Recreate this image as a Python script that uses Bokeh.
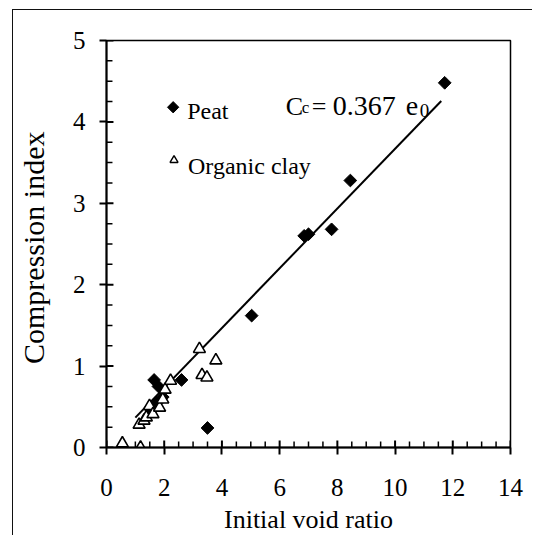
import math
from bokeh.plotting import figure
from bokeh.models import Label, SingleIntervalTicker, Range1d
from bokeh.embed import file_html
from bokeh.resources import INLINE

# Peat (filled diamonds)
peat_e0 = [1.65, 1.80, 1.72, 1.55, 1.95, 2.60, 3.50, 5.03, 6.85, 7.00, 7.80, 8.45, 11.72]
peat_cc = [0.83, 0.75, 0.55, 0.45, 0.62, 0.83, 0.24, 1.62, 2.60, 2.62, 2.68, 3.28, 4.48]

# Organic clay (open triangles)
clay_e0 = [0.55, 1.18, 1.13, 1.30, 1.38, 1.49, 1.61, 1.84, 1.95, 2.03, 2.22, 3.22, 3.31, 3.48, 3.79]
clay_cc = [0.05, 0.00, 0.28, 0.33, 0.37, 0.51, 0.41, 0.49, 0.59, 0.71, 0.82, 1.21, 0.89, 0.86, 1.07]

# Regression Cc = 0.367 e0
slope = 0.367
fit_e0 = [1.0, 11.6]
fit_cc = [slope * e for e in fit_e0]

# axis ticks
x_major = [0, 2, 4, 6, 8, 10, 12, 14]
y_major = [0, 1, 2, 3, 4, 5]
x_minor = [m + k * 0.5 for m in x_major[:-1] for k in (1, 2, 3)]
y_minor = [m + k * 0.25 for m in y_major[:-1] for k in (1, 2, 3)]

FONT = "Liberation Serif"
X0, X1, Y0, Y1 = 0, 14, 0, 5
FRAME_W, FRAME_H = 406, 409          # plot-area size in px
PX_X = (X1 - X0) / FRAME_W          # data units per px
PX_Y = (Y1 - Y0) / FRAME_H

p = figure(width=520, height=526, output_backend="svg", toolbar_location=None,
           x_range=Range1d(X0, X1), y_range=Range1d(Y0, Y1),
           min_border_left=91, min_border_right=23, min_border_top=30, min_border_bottom=87)
p.styles = {"border-left": "1.5px solid #111", "border-top": "1.5px solid #111",
            "margin-left": "12px", "margin-top": "9px"}
p.grid.visible = False
p.outline_line_color = "black"
p.outline_line_width = 1.5
p.background_fill_alpha = 0
p.border_fill_alpha = 0

p.xaxis.ticker = SingleIntervalTicker(interval=2, num_minor_ticks=0)
p.yaxis.ticker = SingleIntervalTicker(interval=1, num_minor_ticks=0)

for ax in (p.xaxis[0], p.yaxis[0]):
    ax.axis_line_width = 2
    ax.axis_line_color = "black"
    ax.major_tick_line_color = "black"
    ax.major_tick_line_width = 2
    ax.major_tick_in = 0
    ax.major_tick_out = 7
    ax.minor_tick_line_color = None
    ax.major_label_text_font = FONT
    ax.major_label_text_font_size = "25px"
    ax.major_label_text_color = "black"
    ax.axis_label_text_font = FONT
    ax.axis_label_text_font_style = "normal"
    ax.axis_label_text_color = "black"

p.xaxis.axis_label = "Initial void ratio"
p.yaxis.axis_label = "Compression  index"
p.xaxis.axis_label_text_font_size = "26px"
p.yaxis.axis_label_text_font_size = "30px"
p.xaxis.major_label_standoff = 24
p.yaxis.major_label_standoff = 14
p.xaxis.axis_label_standoff = 6
p.yaxis.axis_label_standoff = 20

# inward tick marks
MAJ_IN, MIN_IN = 7, 6
p.segment(x0=x_major, y0=[Y0] * len(x_major), x1=x_major, y1=[Y0 + MAJ_IN * PX_Y] * len(x_major),
          line_color="black", line_width=2)
p.segment(x0=x_minor, y0=[Y0] * len(x_minor), x1=x_minor, y1=[Y0 + MIN_IN * PX_Y] * len(x_minor),
          line_color="black", line_width=1.5)
p.segment(x0=[X0] * len(y_major), y0=y_major, x1=[X0 + MAJ_IN * PX_X] * len(y_major), y1=y_major,
          line_color="black", line_width=2)
p.segment(x0=[X0] * len(y_minor), y0=y_minor, x1=[X0 + MIN_IN * PX_X] * len(y_minor), y1=y_minor,
          line_color="black", line_width=1.5)

p.line(fit_e0, fit_cc, line_color="black", line_width=2)
p.scatter(peat_e0, peat_cc, marker="square", size=9, angle=math.pi / 4,
          fill_color="black", line_color="black")
p.scatter(clay_e0, clay_cc, marker="triangle", size=12, fill_color="white",
          line_color="black", line_width=1.6)

# legend
p.scatter([2.31], [4.18], marker="square", size=8, angle=math.pi / 4,
          fill_color="black", line_color="black")
p.scatter([2.34], [3.53], marker="triangle", size=8, fill_color="white", line_color="black", line_width=1.4)
p.add_layout(Label(x=2.31, y=4.14, x_offset=14, text="Peat", text_font=FONT, text_font_size="24px",
                   text_baseline="middle", text_color="black"))
p.add_layout(Label(x=2.34, y=3.46, x_offset=14, text="Organic clay", text_font=FONT,
                   text_font_size="24px", text_baseline="middle", text_color="black"))

# equation
ex, ey = 6.21, 4.19
def eq(txt, dx, dy, size):
    p.add_layout(Label(x=ex, y=ey, x_offset=dx, y_offset=dy, text=txt, text_font=FONT,
                       text_font_size=size, text_baseline="alphabetic", text_color="black"))
eq("C", 0, 0, "26px")
eq("c", 16, -1, "17px")
eq("=", 26, 0, "26px")
eq("0.367", 47, 0, "28px")
eq("e", 120, 0, "28px")
eq("0", 134, -4, "19px")

open("out.html", "w").write(file_html(p, INLINE))
